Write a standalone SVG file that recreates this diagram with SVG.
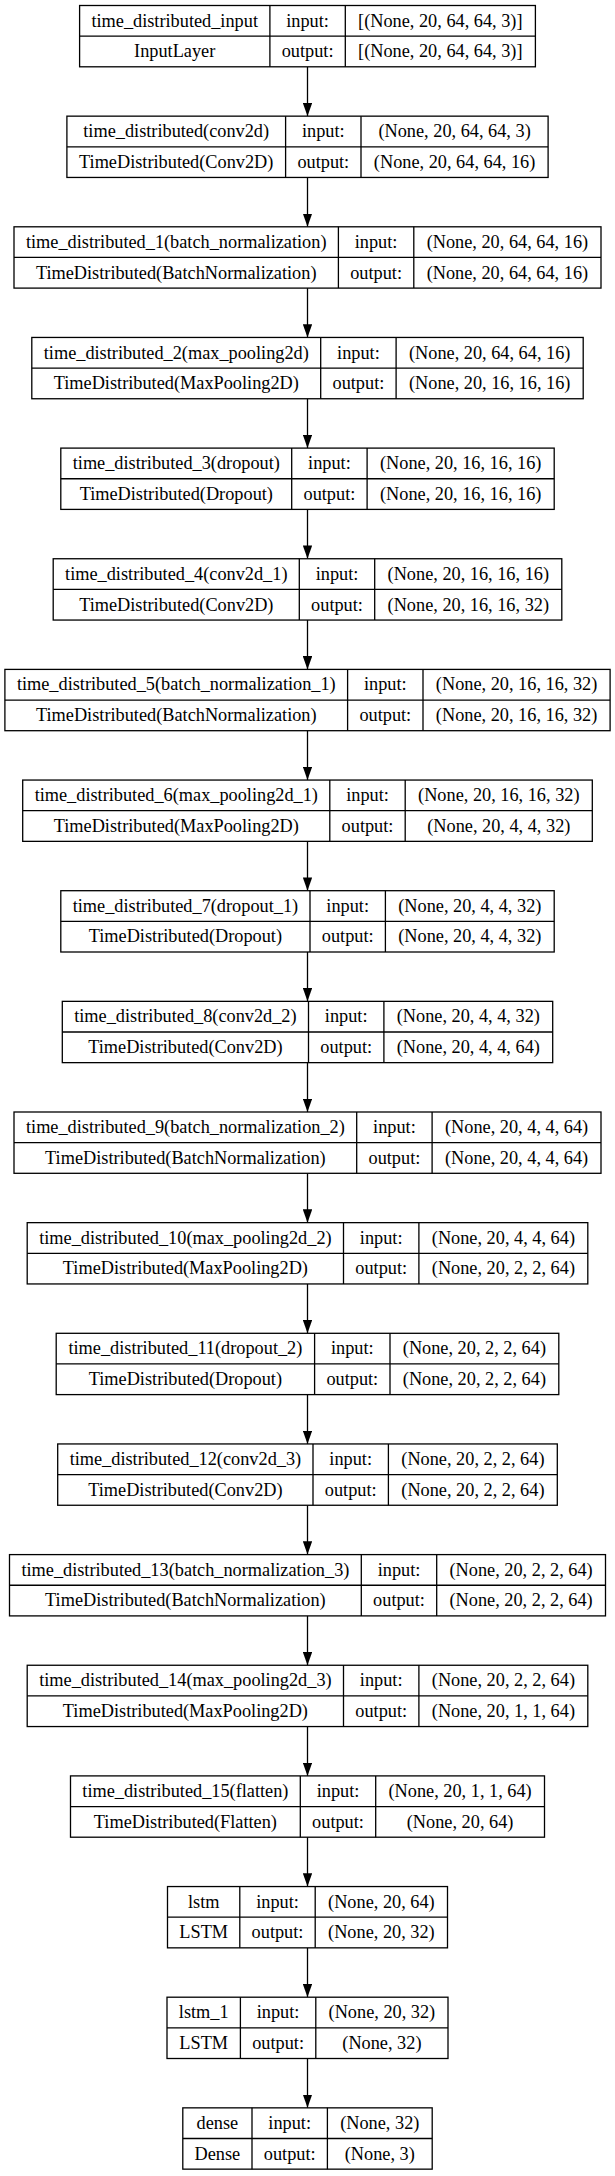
<svg xmlns="http://www.w3.org/2000/svg" width="615" height="2176" viewBox="0 0 615 2176">
<defs>
<style>
.box{fill:#fff;stroke:#000;stroke-width:1.3}
.sep{fill:none;stroke:#000;stroke-width:1.3}
.e{stroke:#000;stroke-width:1.3;fill:none}
text{font-family:"Liberation Serif","Times New Roman",serif;font-size:18.3px;text-anchor:middle;fill:#000}
</style>
<marker id="ah" markerUnits="userSpaceOnUse" viewBox="0 0 13.3 9.4" refX="13.3" refY="4.7" markerWidth="13.3" markerHeight="9.4" orient="auto"><path d="M0,0L13.3,4.7L0,9.4z" fill="#000"/></marker>
</defs>
<rect width="615" height="2176" fill="#fff"/>
<g id="connectors">
<line class="e" x1="307.5" y1="66.8" x2="307.5" y2="116.15" marker-end="url(#ah)"/>
<line class="e" x1="307.5" y1="177.45" x2="307.5" y2="226.8" marker-end="url(#ah)"/>
<line class="e" x1="307.5" y1="288.1" x2="307.5" y2="337.45" marker-end="url(#ah)"/>
<line class="e" x1="307.5" y1="398.75" x2="307.5" y2="448.1" marker-end="url(#ah)"/>
<line class="e" x1="307.5" y1="509.4" x2="307.5" y2="558.75" marker-end="url(#ah)"/>
<line class="e" x1="307.5" y1="620.05" x2="307.5" y2="669.4" marker-end="url(#ah)"/>
<line class="e" x1="307.5" y1="730.7" x2="307.5" y2="780.05" marker-end="url(#ah)"/>
<line class="e" x1="307.5" y1="841.35" x2="307.5" y2="890.7" marker-end="url(#ah)"/>
<line class="e" x1="307.5" y1="952" x2="307.5" y2="1001.35" marker-end="url(#ah)"/>
<line class="e" x1="307.5" y1="1062.65" x2="307.5" y2="1112" marker-end="url(#ah)"/>
<line class="e" x1="307.5" y1="1173.3" x2="307.5" y2="1222.65" marker-end="url(#ah)"/>
<line class="e" x1="307.5" y1="1283.95" x2="307.5" y2="1333.3" marker-end="url(#ah)"/>
<line class="e" x1="307.5" y1="1394.6" x2="307.5" y2="1443.95" marker-end="url(#ah)"/>
<line class="e" x1="307.5" y1="1505.25" x2="307.5" y2="1554.6" marker-end="url(#ah)"/>
<line class="e" x1="307.5" y1="1615.9" x2="307.5" y2="1665.25" marker-end="url(#ah)"/>
<line class="e" x1="307.5" y1="1726.55" x2="307.5" y2="1775.9" marker-end="url(#ah)"/>
<line class="e" x1="307.5" y1="1837.2" x2="307.5" y2="1886.55" marker-end="url(#ah)"/>
<line class="e" x1="307.5" y1="1947.85" x2="307.5" y2="1997.2" marker-end="url(#ah)"/>
<line class="e" x1="307.5" y1="2058.5" x2="307.5" y2="2107.85" marker-end="url(#ah)"/>
</g>
<g id="n0" transform="translate(0,5.5)">
<rect class="box" x="79.6" y="0" width="455.8" height="61.3"/>
<path class="sep" d="M79.6,30.65H535.4M269.9,0V61.3M345.3,0V61.3"/>
<text x="174.7" y="21.1">time_distributed_input</text>
<text x="174.7" y="51.8">InputLayer</text>
<text x="307.6" y="21.1">input:</text>
<text x="307.6" y="51.8">output:</text>
<text x="440.3" y="21.1">[(None, 20, 64, 64, 3)]</text>
<text x="440.3" y="51.8">[(None, 20, 64, 64, 3)]</text>
</g>
<g id="n1" transform="translate(0,116.15)">
<rect class="box" x="66.9" y="0" width="481.2" height="61.3"/>
<path class="sep" d="M66.9,30.65H548.1M285.6,0V61.3M361,0V61.3"/>
<text x="176.2" y="21.1">time_distributed(conv2d)</text>
<text x="176.2" y="51.8">TimeDistributed(Conv2D)</text>
<text x="323.3" y="21.1">input:</text>
<text x="323.3" y="51.8">output:</text>
<text x="454.6" y="21.1">(None, 20, 64, 64, 3)</text>
<text x="454.6" y="51.8">(None, 20, 64, 64, 16)</text>
</g>
<g id="n2" transform="translate(0,226.8)">
<rect class="box" x="14" y="0" width="587" height="61.3"/>
<path class="sep" d="M14,30.65H601M338.4,0V61.3M413.8,0V61.3"/>
<text x="176.2" y="21.1">time_distributed_1(batch_normalization)</text>
<text x="176.2" y="51.8">TimeDistributed(BatchNormalization)</text>
<text x="376.1" y="21.1">input:</text>
<text x="376.1" y="51.8">output:</text>
<text x="507.4" y="21.1">(None, 20, 64, 64, 16)</text>
<text x="507.4" y="51.8">(None, 20, 64, 64, 16)</text>
</g>
<g id="n3" transform="translate(0,337.45)">
<rect class="box" x="31.8" y="0" width="551.4" height="61.3"/>
<path class="sep" d="M31.8,30.65H583.2M320.7,0V61.3M396.1,0V61.3"/>
<text x="176.3" y="21.1">time_distributed_2(max_pooling2d)</text>
<text x="176.3" y="51.8">TimeDistributed(MaxPooling2D)</text>
<text x="358.4" y="21.1">input:</text>
<text x="358.4" y="51.8">output:</text>
<text x="489.7" y="21.1">(None, 20, 64, 64, 16)</text>
<text x="489.7" y="51.8">(None, 20, 16, 16, 16)</text>
</g>
<g id="n4" transform="translate(0,448.1)">
<rect class="box" x="60.8" y="0" width="493.4" height="61.3"/>
<path class="sep" d="M60.8,30.65H554.2M291.7,0V61.3M367.1,0V61.3"/>
<text x="176.3" y="21.1">time_distributed_3(dropout)</text>
<text x="176.3" y="51.8">TimeDistributed(Dropout)</text>
<text x="329.4" y="21.1">input:</text>
<text x="329.4" y="51.8">output:</text>
<text x="460.7" y="21.1">(None, 20, 16, 16, 16)</text>
<text x="460.7" y="51.8">(None, 20, 16, 16, 16)</text>
</g>
<g id="n5" transform="translate(0,558.75)">
<rect class="box" x="53.2" y="0" width="508.6" height="61.3"/>
<path class="sep" d="M53.2,30.65H561.8M299.3,0V61.3M374.7,0V61.3"/>
<text x="176.3" y="21.1">time_distributed_4(conv2d_1)</text>
<text x="176.3" y="51.8">TimeDistributed(Conv2D)</text>
<text x="337" y="21.1">input:</text>
<text x="337" y="51.8">output:</text>
<text x="468.3" y="21.1">(None, 20, 16, 16, 16)</text>
<text x="468.3" y="51.8">(None, 20, 16, 16, 32)</text>
</g>
<g id="n6" transform="translate(0,669.4)">
<rect class="box" x="4.9" y="0" width="605.2" height="61.3"/>
<path class="sep" d="M4.9,30.65H610.1M347.6,0V61.3M423,0V61.3"/>
<text x="176.3" y="21.1">time_distributed_5(batch_normalization_1)</text>
<text x="176.3" y="51.8">TimeDistributed(BatchNormalization)</text>
<text x="385.3" y="21.1">input:</text>
<text x="385.3" y="51.8">output:</text>
<text x="516.6" y="21.1">(None, 20, 16, 16, 32)</text>
<text x="516.6" y="51.8">(None, 20, 16, 16, 32)</text>
</g>
<g id="n7" transform="translate(0,780.05)">
<rect class="box" x="22.7" y="0" width="569.6" height="61.3"/>
<path class="sep" d="M22.7,30.65H592.3M329.8,0V61.3M405.2,0V61.3"/>
<text x="176.3" y="21.1">time_distributed_6(max_pooling2d_1)</text>
<text x="176.3" y="51.8">TimeDistributed(MaxPooling2D)</text>
<text x="367.5" y="21.1">input:</text>
<text x="367.5" y="51.8">output:</text>
<text x="498.8" y="21.1">(None, 20, 16, 16, 32)</text>
<text x="498.8" y="51.8">(None, 20, 4, 4, 32)</text>
</g>
<g id="n8" transform="translate(0,890.7)">
<rect class="box" x="60.8" y="0" width="493.4" height="61.3"/>
<path class="sep" d="M60.8,30.65H554.2M310,0V61.3M385.4,0V61.3"/>
<text x="185.4" y="21.1">time_distributed_7(dropout_1)</text>
<text x="185.4" y="51.8">TimeDistributed(Dropout)</text>
<text x="347.7" y="21.1">input:</text>
<text x="347.7" y="51.8">output:</text>
<text x="469.8" y="21.1">(None, 20, 4, 4, 32)</text>
<text x="469.8" y="51.8">(None, 20, 4, 4, 32)</text>
</g>
<g id="n9" transform="translate(0,1001.35)">
<rect class="box" x="62.3" y="0" width="490.4" height="61.3"/>
<path class="sep" d="M62.3,30.65H552.7M308.5,0V61.3M383.9,0V61.3"/>
<text x="185.4" y="21.1">time_distributed_8(conv2d_2)</text>
<text x="185.4" y="51.8">TimeDistributed(Conv2D)</text>
<text x="346.2" y="21.1">input:</text>
<text x="346.2" y="51.8">output:</text>
<text x="468.3" y="21.1">(None, 20, 4, 4, 32)</text>
<text x="468.3" y="51.8">(None, 20, 4, 4, 64)</text>
</g>
<g id="n10" transform="translate(0,1112)">
<rect class="box" x="14" y="0" width="587" height="61.3"/>
<path class="sep" d="M14,30.65H601M356.7,0V61.3M432.1,0V61.3"/>
<text x="185.4" y="21.1">time_distributed_9(batch_normalization_2)</text>
<text x="185.4" y="51.8">TimeDistributed(BatchNormalization)</text>
<text x="394.4" y="21.1">input:</text>
<text x="394.4" y="51.8">output:</text>
<text x="516.6" y="21.1">(None, 20, 4, 4, 64)</text>
<text x="516.6" y="51.8">(None, 20, 4, 4, 64)</text>
</g>
<g id="n11" transform="translate(0,1222.65)">
<rect class="box" x="27.2" y="0" width="560.6" height="61.3"/>
<path class="sep" d="M27.2,30.65H587.8M343.5,0V61.3M418.9,0V61.3"/>
<text x="185.4" y="21.1">time_distributed_10(max_pooling2d_2)</text>
<text x="185.4" y="51.8">TimeDistributed(MaxPooling2D)</text>
<text x="381.2" y="21.1">input:</text>
<text x="381.2" y="51.8">output:</text>
<text x="503.4" y="21.1">(None, 20, 4, 4, 64)</text>
<text x="503.4" y="51.8">(None, 20, 2, 2, 64)</text>
</g>
<g id="n12" transform="translate(0,1333.3)">
<rect class="box" x="56.2" y="0" width="502.6" height="61.3"/>
<path class="sep" d="M56.2,30.65H558.8M314.6,0V61.3M390,0V61.3"/>
<text x="185.4" y="21.1">time_distributed_11(dropout_2)</text>
<text x="185.4" y="51.8">TimeDistributed(Dropout)</text>
<text x="352.3" y="21.1">input:</text>
<text x="352.3" y="51.8">output:</text>
<text x="474.4" y="21.1">(None, 20, 2, 2, 64)</text>
<text x="474.4" y="51.8">(None, 20, 2, 2, 64)</text>
</g>
<g id="n13" transform="translate(0,1443.95)">
<rect class="box" x="57.7" y="0" width="499.6" height="61.3"/>
<path class="sep" d="M57.7,30.65H557.3M313,0V61.3M388.4,0V61.3"/>
<text x="185.4" y="21.1">time_distributed_12(conv2d_3)</text>
<text x="185.4" y="51.8">TimeDistributed(Conv2D)</text>
<text x="350.7" y="21.1">input:</text>
<text x="350.7" y="51.8">output:</text>
<text x="472.9" y="21.1">(None, 20, 2, 2, 64)</text>
<text x="472.9" y="51.8">(None, 20, 2, 2, 64)</text>
</g>
<g id="n14" transform="translate(0,1554.6)">
<rect class="box" x="9.5" y="0" width="596" height="61.3"/>
<path class="sep" d="M9.5,30.65H605.5M361.3,0V61.3M436.7,0V61.3"/>
<text x="185.4" y="21.1">time_distributed_13(batch_normalization_3)</text>
<text x="185.4" y="51.8">TimeDistributed(BatchNormalization)</text>
<text x="399" y="21.1">input:</text>
<text x="399" y="51.8">output:</text>
<text x="521.1" y="21.1">(None, 20, 2, 2, 64)</text>
<text x="521.1" y="51.8">(None, 20, 2, 2, 64)</text>
</g>
<g id="n15" transform="translate(0,1665.25)">
<rect class="box" x="27.2" y="0" width="560.6" height="61.3"/>
<path class="sep" d="M27.2,30.65H587.8M343.5,0V61.3M418.9,0V61.3"/>
<text x="185.4" y="21.1">time_distributed_14(max_pooling2d_3)</text>
<text x="185.4" y="51.8">TimeDistributed(MaxPooling2D)</text>
<text x="381.2" y="21.1">input:</text>
<text x="381.2" y="51.8">output:</text>
<text x="503.4" y="21.1">(None, 20, 2, 2, 64)</text>
<text x="503.4" y="51.8">(None, 20, 1, 1, 64)</text>
</g>
<g id="n16" transform="translate(0,1775.9)">
<rect class="box" x="70.5" y="0" width="474" height="61.3"/>
<path class="sep" d="M70.5,30.65H544.5M300.3,0V61.3M375.7,0V61.3"/>
<text x="185.4" y="21.1">time_distributed_15(flatten)</text>
<text x="185.4" y="51.8">TimeDistributed(Flatten)</text>
<text x="338" y="21.1">input:</text>
<text x="338" y="51.8">output:</text>
<text x="460.1" y="21.1">(None, 20, 1, 1, 64)</text>
<text x="460.1" y="51.8">(None, 20, 64)</text>
</g>
<g id="n17" transform="translate(0,1886.55)">
<rect class="box" x="167.5" y="0" width="280" height="61.3"/>
<path class="sep" d="M167.5,30.65H447.5M239.8,0V61.3M315.2,0V61.3"/>
<text x="203.7" y="21.1">lstm</text>
<text x="203.7" y="51.8">LSTM</text>
<text x="277.5" y="21.1">input:</text>
<text x="277.5" y="51.8">output:</text>
<text x="381.4" y="21.1">(None, 20, 64)</text>
<text x="381.4" y="51.8">(None, 20, 32)</text>
</g>
<g id="n18" transform="translate(0,1997.2)">
<rect class="box" x="167" y="0" width="281" height="61.3"/>
<path class="sep" d="M167,30.65H448M240.4,0V61.3M315.8,0V61.3"/>
<text x="203.7" y="21.1">lstm_1</text>
<text x="203.7" y="51.8">LSTM</text>
<text x="278.1" y="21.1">input:</text>
<text x="278.1" y="51.8">output:</text>
<text x="381.9" y="21.1">(None, 20, 32)</text>
<text x="381.9" y="51.8">(None, 32)</text>
</g>
<g id="n19" transform="translate(0,2107.85)">
<rect class="box" x="182.8" y="0" width="249.4" height="61.3"/>
<path class="sep" d="M182.8,30.65H432.2M252,0V61.3M327.4,0V61.3"/>
<text x="217.4" y="21.1">dense</text>
<text x="217.4" y="51.8">Dense</text>
<text x="289.7" y="21.1">input:</text>
<text x="289.7" y="51.8">output:</text>
<text x="379.8" y="21.1">(None, 32)</text>
<text x="379.8" y="51.8">(None, 3)</text>
</g>
</svg>
